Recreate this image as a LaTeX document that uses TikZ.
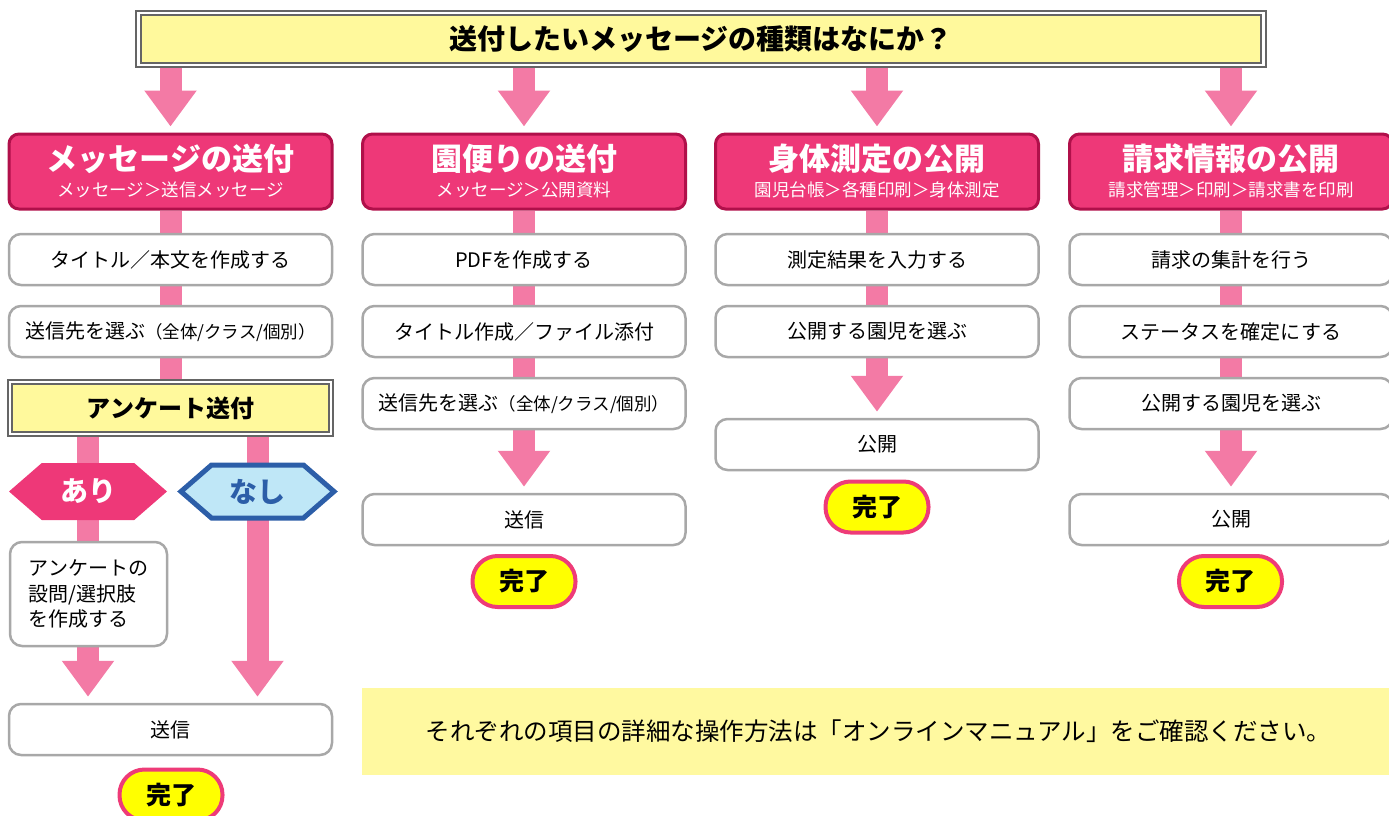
\documentclass[tikz,border=0pt]{standalone}
\usepackage{fontspec}
\setmainfont{Noto Sans CJK JP}
\usetikzlibrary{arrows.meta,shapes.symbols,backgrounds}
\definecolor{pk}{HTML}{F37AA5}
\definecolor{hdrfill}{HTML}{EE3878}
\definecolor{hdrdraw}{HTML}{B0104A}
\definecolor{boxdraw}{HTML}{A8A8A8}
\definecolor{ylw}{HTML}{FFF99C}
\definecolor{frame}{HTML}{656565}
\definecolor{notefill}{HTML}{FFF9A0}
\definecolor{nashifill}{HTML}{BFE7F7}
\definecolor{nashidraw}{HTML}{2C5EA8}
\definecolor{pillfill}{HTML}{FFFF00}
\definecolor{pilldraw}{HTML}{EE3B78}
\begin{document}
\begin{tikzpicture}[x=1pt,y=-1pt,
  ybox/.style={draw=frame, line width=2pt, double=white, double distance=2.2pt,
    fill=ylw, minimum height=52pt, inner sep=0pt, text=black},
  hdr/.style={draw=hdrdraw, line width=3pt, fill=hdrfill, rounded corners=10pt,
    minimum width=323pt, minimum height=75pt, inner sep=0pt},
  hdrtitle/.style={text=white, font=\fontsize{31}{31}\selectfont\bfseries, inner sep=0pt},
  hdrsub/.style={text=white, font=\fontsize{17.5}{17.5}\selectfont, inner sep=0pt},
  stepbox/.style={draw=boxdraw, line width=2.5pt, fill=white, rounded corners=12pt,
    minimum width=323pt, minimum height=51pt, inner sep=0pt,
    font=\fontsize{20}{24}\selectfont},
  pill/.style={draw=pilldraw, line width=4pt, fill=pillfill, rounded corners=25pt,
    minimum width=103pt, minimum height=51pt, inner sep=0pt,
    font=\fontsize{25}{25}\selectfont\bfseries},
  bar/.style={draw=pk, line width=22pt},
  bigarrow/.style={draw=pk, line width=22pt, -{Triangle[width=50pt,length=36pt]}},
  hexa/.style={shape=signal, signal to=west and east, signal pointer angle=82,
    minimum width=158pt, minimum height=57pt, inner sep=0pt,
    font=\fontsize{28}{28}\selectfont\bfseries}
]
\useasboundingbox (0,0) rectangle (1389,816);

% question
\node[ybox, minimum width=1125pt, font=\fontsize{28}{28}\selectfont\bfseries] (top) at (701,39) {送付したいメッセージの種類はなにか？};

% headers
\node[hdr] (h1) at (170.5,171.5) {};
\node[hdr] (h2) at (524,171.5) {};
\node[hdr] (h3) at (877,171.5) {};
\node[hdr] (h4) at (1231,171.5) {};
\node[hdrtitle] (h1t) at (170.5,158.5) {メッセージの送付};
\node[hdrsub] (h1s) at (170.5,189.5) {メッセージ＞送信メッセージ};
\node[hdrtitle] (h2t) at (524,158.5) {園便りの送付};
\node[hdrsub] (h2s) at (524,189.5) {メッセージ＞公開資料};
\node[hdrtitle] (h3t) at (877,158.5) {身体測定の公開};
\node[hdrsub] (h3s) at (877,189.5) {園児台帳＞各種印刷＞身体測定};
\node[hdrtitle] (h4t) at (1231,158.5) {請求情報の公開};
\node[hdrsub] (h4s) at (1231,189.5) {請求管理＞印刷＞請求書を印刷};

% column 1
\node[stepbox] (t1) at (170.5,259.5) {タイトル／本文を作成する};
\node[stepbox] (t2) at (170.5,331.5) {送信先を選ぶ{\fontsize{17.5}{17.5}\selectfont（全体/クラス/個別）}};
\node[ybox, minimum width=321pt, font=\fontsize{24}{24}\selectfont\bfseries] (ank) at (170.5,408) {アンケート送付};
\node[hexa, fill=hdrfill, text=white] (ari) at (88,491.5) {あり};
\node[hexa, fill=nashifill, draw=nashidraw, line width=5pt, text=nashidraw, minimum width=153pt, minimum height=53pt] (nashi) at (257.5,491.5) {なし};
\node[stepbox, minimum width=157pt, minimum height=104pt, align=left,
  font=\fontsize{20}{25.5}\selectfont] (q) at (88.5,594) {アンケートの\\設問/選択肢\\を作成する};
\node[stepbox] (send1) at (170.5,729.5) {送信};
\node[pill] (done1) at (171,795) {完了};

% column 2
\node[stepbox] (p1) at (524,259.5) {PDFを作成する};
\node[stepbox] (p2) at (524,331.5) {タイトル作成／ファイル添付};
\node[stepbox] (p3) at (524,403.5) {送信先を選ぶ{\fontsize{17.5}{17.5}\selectfont（全体/クラス/個別）}};
\node[stepbox] (send2) at (524,519.5) {送信};
\node[pill] (done2) at (524,581.5) {完了};

% column 3
\node[stepbox] (m1) at (877,259.5) {測定結果を入力する};
\node[stepbox] (m2) at (877,331.5) {公開する園児を選ぶ};
\node[stepbox] (pub3) at (877,444.5) {公開};
\node[pill] (done3) at (877,507) {完了};

% column 4
\node[stepbox] (b1) at (1231,259.5) {請求の集計を行う};
\node[stepbox] (b2) at (1231,331.5) {ステータスを確定にする};
\node[stepbox] (b3) at (1231,403.5) {公開する園児を選ぶ};
\node[stepbox] (pub4) at (1231,519.5) {公開};
\node[pill] (done4) at (1230.5,581.5) {完了};

% note
\node[fill=notefill, minimum width=1033pt, minimum height=87pt, inner sep=0pt,
  font=\fontsize{24.5}{24.5}\selectfont] (note) at (878.5,731.5) {それぞれの項目の詳細な操作方法は「オンラインマニュアル」をご確認ください。};

\begin{scope}[on background layer]
  % top arrows
  \draw[bigarrow] (top.south -| h1) -- ([yshift=6pt]h1.north);
  \draw[bigarrow] (top.south -| h2) -- ([yshift=6pt]h2.north);
  \draw[bigarrow] (top.south -| h3) -- ([yshift=6pt]h3.north);
  \draw[bigarrow] (top.south -| h4) -- ([yshift=6pt]h4.north);
  % column 1
  \draw[bar] (h1.south) -- (t1.north);
  \draw[bar] (t1.south) -- (t2.north);
  \draw[bar] (t2.south) -- (ank.north);
  \draw[bar] (ank.south -| ari) -- (q.north -| ari);
  \draw[bigarrow] (q.south -| ari) -- ([yshift=6pt]send1.north -| ari);
  \draw[bigarrow] (ank.south -| nashi) -- ([yshift=6pt]send1.north -| nashi);
  % column 2
  \draw[bar] (h2.south) -- (p1.north);
  \draw[bar] (p1.south) -- (p2.north);
  \draw[bar] (p2.south) -- (p3.north);
  \draw[bigarrow] (p3.south) -- ([yshift=6pt]send2.north);
  % column 3
  \draw[bar] (h3.south) -- (m1.north);
  \draw[bar] (m1.south) -- (m2.north);
  \draw[bigarrow] (m2.south) -- ([yshift=6pt]pub3.north);
  % column 4
  \draw[bar] (h4.south) -- (b1.north);
  \draw[bar] (b1.south) -- (b2.north);
  \draw[bar] (b2.south) -- (b3.north);
  \draw[bigarrow] (b3.south) -- ([yshift=6pt]pub4.north);
\end{scope}
\end{tikzpicture}
\end{document}
